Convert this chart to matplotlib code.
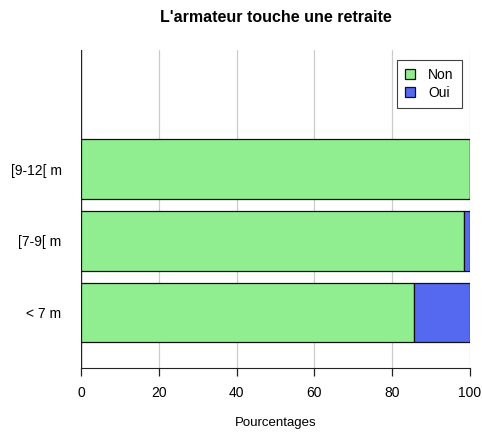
import matplotlib.pyplot as plt
import numpy as np

plt.rcParams["font.family"] = ["Liberation Sans", "DejaVu Sans"]

# data
categories = ["< 7 m", "[7-9[ m", "[9-12[ m"]
non_values = [85.7, 98.4, 100.0]
oui_values = [14.3, 1.6, 0.0]

fig = plt.figure(figsize=(4.82, 4.34), dpi=100)
ax = fig.add_axes([81 / 482, (434 - 368) / 434, (470 - 81) / 482, (368 - 50) / 434])

y = 0.7 + 1.2 * np.arange(len(categories))

ax.set_axisbelow(True)
for gx in [20, 40, 60, 80, 100]:
    ax.axvline(gx, color="#cccccc", linewidth=0.9, zorder=0)
ax.axvline(0, color="#222222", linewidth=1.0, zorder=0)

ax.barh(y, non_values, height=1.0, color="#90EE90", edgecolor="#111111", linewidth=0.9, label="Non", zorder=2)
ax.barh(y, oui_values, left=non_values, height=1.0, color="#5468F0", edgecolor="#111111", linewidth=0.9, label="Oui", zorder=2)

ax.set_xlim(0, 100)
ax.set_ylim(-0.23, 5.1)

for s in ["top", "right", "left"]:
    ax.spines[s].set_visible(False)
ax.spines["bottom"].set_color("#222222")
ax.set_xticks([0, 20, 40, 60, 80, 100])
ax.tick_params(axis="x", length=6, width=0.9, color="#222222", labelsize=10, pad=7)
ax.set_yticks(y)
ax.set_yticklabels(categories)
ax.tick_params(axis="y", length=0, labelsize=10, pad=14)

ax.set_xlabel("Pourcentages", fontsize=9.5, labelpad=12)
ax.set_title("L'armateur touche une retraite", fontsize=11.5, fontweight="bold", pad=20)

leg = ax.legend(loc="upper right", bbox_to_anchor=(0.979, 0.969), borderaxespad=0, fontsize=10, frameon=True,
                fancybox=False, edgecolor="#111111", handlelength=0.75, handleheight=0.75,
                borderpad=0.6, labelspacing=0.25, handletextpad=0.9)
leg.get_frame().set_linewidth(0.8)

fig.savefig("out.png", dpi=100)
